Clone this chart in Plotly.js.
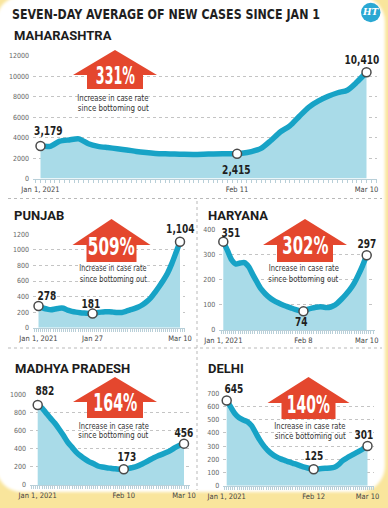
<!DOCTYPE html>
<html>
<head>
<meta charset="utf-8">
<script src="https://cdn.plot.ly/plotly-3.0.1.min.js"></script>
<style>
  html, body { margin: 0; padding: 0; background: #f9e59c; width: 388px; height: 508px; overflow: hidden; }
  #card { position: absolute; left: -4px; top: -4px; width: 389px; height: 496px; background: #fff; border-radius: 26px; filter: blur(1.5px); }
  #chart { position: absolute; left: 0; top: 0; width: 388px; height: 508px; }
</style>
</head>
<body>
<div id="card"></div>
<div id="chart"></div>
<script>
// Seven-day average of new COVID-19 cases, sampled every second day from Jan 1 to Mar 10, 2021
const days = [
  '2021-01-01','2021-01-03','2021-01-05','2021-01-07','2021-01-09','2021-01-11','2021-01-13','2021-01-15',
  '2021-01-17','2021-01-19','2021-01-21','2021-01-23','2021-01-25','2021-01-27','2021-01-29','2021-01-31',
  '2021-02-02','2021-02-04','2021-02-06','2021-02-08','2021-02-10','2021-02-12','2021-02-14','2021-02-16',
  '2021-02-18','2021-02-20','2021-02-22','2021-02-24','2021-02-26','2021-02-28','2021-03-02','2021-03-04',
  '2021-03-06','2021-03-08','2021-03-10'
];

const maharashtra = [3179, 3150, 3650, 3780, 3880, 3400, 3150, 3030, 2920, 2800, 2650, 2540, 2460, 2420, 2390, 2370,
  2360, 2380, 2410, 2430, 2415, 2480, 2640, 2950, 3700, 4550, 5150, 6100, 7000, 7600, 8050, 8400, 8650, 9450, 10410];
const punjab = [278, 255, 240, 230, 240, 250, 250, 225, 210, 200, 193, 188, 184, 181, 192, 200,
  205, 206, 200, 195, 196, 210, 228, 245, 265, 295, 335, 385, 455, 530, 610, 700, 820, 960, 1104];
const haryana = [351, 315, 278, 262, 266, 268, 252, 220, 190, 162, 143, 128, 117, 108, 100, 94,
  88, 82, 77, 74, 82, 87, 90, 92, 90, 89, 95, 106, 122, 140, 160, 185, 218, 255, 297];
const madhyaPradesh = [882, 850, 790, 735, 680, 615, 545, 470, 415, 360, 320, 285, 255, 235, 210, 198,
  190, 184, 178, 175, 173, 180, 192, 205, 225, 250, 275, 300, 322, 340, 360, 385, 415, 438, 456];
const delhi = [645, 595, 545, 515, 498, 485, 455, 400, 345, 300, 265, 238, 218, 203, 192, 180,
  170, 160, 148, 138, 130, 125, 127, 130, 132, 134, 140, 160, 190, 210, 228, 245, 262, 280, 301];

// Start, low point and latest value for each state
const mhKeyDates = ['2021-01-01', '2021-02-11', '2021-03-10'];
const mhKeyVals = [3179, 2415, 10410];
const pbKeyDates = ['2021-01-01', '2021-01-27', '2021-03-10'];
const pbKeyVals = [278, 181, 1104];
const hrKeyDates = ['2021-01-01', '2021-02-08', '2021-03-10'];
const hrKeyVals = [351, 74, 297];
const mpKeyDates = ['2021-01-01', '2021-02-10', '2021-03-10'];
const mpKeyVals = [882, 173, 456];
const dlKeyDates = ['2021-01-01', '2021-02-12', '2021-03-10'];
const dlKeyVals = [645, 125, 301];

const mhTicks = ['Jan 1, 2021', 'Feb 11', 'Mar 10'];
const pbTicks = ['Jan 1, 2021', 'Jan 27', 'Mar 10'];
const hrTicks = ['Jan 1, 2021', 'Feb 8', 'Mar 10'];
const mpTicks = ['Jan 1, 2021', 'Feb 10', 'Mar 10'];
const dlTicks = ['Jan 1, 2021', 'Feb 12', 'Mar 10'];

const stateNames = ['MAHARASHTRA', 'PUNJAB', 'HARYANA', 'MADHYA PRADESH', 'DELHI'];
const increases = ['331%', '509%', '302%', '164%', '140%'];
const noteLines = ['Increase in case rate', 'since bottoming out'];

// ---- styling & geometry (pixels in a 388x508 page) ----
const W = 388, H = 508;
const px = v => v / W;
const py = v => 1 - v / H;
const DAY = 86400000;
const NARROW = '"Liberation Sans Narrow", "DejaVu Sans Condensed", "Roboto Condensed", sans-serif';
const BOLD = 'Roboto, "Noto Sans", sans-serif';
const CYAN = '#17a3c6', FILL = '#a9dbe8', RED = '#e4472e', TICKC = '#b8cfd8';

const panels = [
  { name: stateNames[0], vals: maharashtra, keyDates: mhKeyDates, keyVals: mhKeyVals, ticks: mhTicks, pct: increases[0],
    xPix: [33, 377], p0: 40.5, p1: 366.5, yPix: [178.5, 56], top: 12000, dtick: 2000, titleAt: [12, 36],
    arrow: { cx: 115, tip: 50, head: 42, base: 75, body: 28, bottom: 89 }, pctY: 76, pctW: 39,
    noteX: 113, noteY: [97.5, 107.5], noteW: 71,
    shifts: [[8, 15], [-1, -16], [-5, 12]] },
  { name: stateNames[1], vals: punjab, keyDates: pbKeyDates, keyVals: pbKeyVals, ticks: pbTicks, pct: increases[1],
    xPix: [33, 185], p0: 38.5, p1: 180, yPix: [327.7, 234.3], top: 1200, dtick: 200, titleAt: [12, 215],
    arrow: { cx: 111.5, tip: 219, head: 39, base: 245, body: 25, bottom: 262 }, pctY: 246.5, pctW: 47,
    noteX: 113, noteY: [268, 278.5], noteW: 67,
    shifts: [[8, 10], [-2, 10], [0, 13]] },
  { name: stateNames[2], vals: haryana, keyDates: hrKeyDates, keyVals: hrKeyVals, ticks: hrTicks, pct: increases[2],
    xPix: [219.3, 375], p0: 223.3, p1: 366.7, yPix: [330, 229.3], top: 400, dtick: 100, titleAt: [206, 215],
    arrow: { cx: 305, tip: 219, head: 42, base: 245, body: 28, bottom: 262 }, pctY: 246, pctW: 46,
    noteX: 303.5, noteY: [268, 278.5], noteW: 70,
    shifts: [[8, 9], [-2, -11], [0, 11]] },
  { name: stateNames[3], vals: madhyaPradesh, keyDates: mpKeyDates, keyVals: mpKeyVals, ticks: mpTicks, pct: increases[3],
    xPix: [30, 190], p0: 37.7, p1: 184, yPix: [485, 394.3], top: 1000, dtick: 200, titleAt: [12.5, 368],
    arrow: { cx: 115, tip: 377, head: 42, base: 402, body: 28, bottom: 418 }, pctY: 403, pctW: 44,
    noteX: 113.5, noteY: [425.7, 435], noteW: 70,
    shifts: [[7, 14], [3, 12], [0, 11]] },
  { name: stateNames[4], vals: delhi, keyDates: dlKeyDates, keyVals: dlKeyVals, ticks: dlTicks, pct: increases[4],
    xPix: [223.3, 374], p0: 226.7, p1: 367.5, yPix: [485.7, 393.3], top: 700, dtick: 100, titleAt: [206, 368],
    arrow: { cx: 308.5, tip: 377, head: 41, base: 403, body: 27, bottom: 419 }, pctY: 405, pctW: 43,
    noteX: 310, noteY: [426, 435.5], noteW: 71,
    shifts: [[7, 12], [0, 13], [-4, 11]] }
];

function dateRange(a, b, p0, p1) {
  const t0 = Date.UTC(2021, 0, 1), t1 = Date.UTC(2021, 2, 10);
  const s = (p1 - p0) / (t1 - t0);
  return [t0 - (p0 - a) / s, t1 + (b - p1) / s];
}

function arrowPath(a) {
  const pts = [
    [a.cx, a.tip], [a.cx + a.head, a.base], [a.cx + a.body, a.base], [a.cx + a.body, a.bottom],
    [a.cx - a.body, a.bottom], [a.cx - a.body, a.base], [a.cx - a.head, a.base]
  ];
  return 'M' + pts.map(p => px(p[0]) + ',' + py(p[1])).join(' L') + ' Z';
}

const data = [];
const layout = {
  width: W, height: H,
  margin: { l: 0, r: 0, t: 0, b: 0 },
  paper_bgcolor: 'rgba(0,0,0,0)',
  plot_bgcolor: 'rgba(0,0,0,0)',
  showlegend: false,
  annotations: [],
  shapes: []
};

// condensed lettering: annotation index -> fixed width (px) or scale factor
const squeeze = [];
function addNote(ann, fit) {
  layout.annotations.push(ann);
  if (fit) squeeze.push(Object.assign({ idx: layout.annotations.length - 1 }, fit));
}

panels.forEach((p, i) => {
  const s = i === 0 ? '' : String(i + 1);
  const xa = 'x' + s, ya = 'y' + s;

  data.push({
    x: days, y: p.vals, xaxis: xa, yaxis: ya, type: 'scatter', mode: 'lines',
    line: { color: CYAN, width: 5.5, shape: 'spline', smoothing: 0.7 },
    fill: 'tozeroy', fillcolor: FILL, hoverinfo: 'skip'
  });
  data.push({
    x: p.keyDates, y: p.keyVals, xaxis: xa, yaxis: ya, type: 'scatter', mode: 'markers',
    marker: { size: 9, color: '#ffffff', line: { color: '#4a4a4a', width: 1.5 } },
    cliponaxis: false, hoverinfo: 'skip'
  });

  const yScale = (p.yPix[0] - p.yPix[1]) / p.top;
  layout['xaxis' + s] = {
    type: 'date', domain: [px(p.xPix[0]), px(p.xPix[1])], range: dateRange(p.xPix[0], p.xPix[1], p.p0, p.p1),
    anchor: ya, tickmode: 'array', tickvals: p.keyDates, ticktext: p.ticks,
    ticks: 'outside', ticklen: 3, tickcolor: TICKC, showline: true, linecolor: TICKC, linewidth: 1,
    showgrid: false, zeroline: false, fixedrange: true,
    tickfont: { family: NARROW, size: 7.5, color: '#444' },
    minor: { tickmode: 'linear', tick0: '2021-01-01', dtick: DAY, ticks: 'outside', ticklen: 3, tickcolor: TICKC, showgrid: false }
  };
  layout['yaxis' + s] = {
    domain: [py(p.yPix[0]), py(p.yPix[1] - 0.5)], range: [0, p.top + 0.5 / yScale],
    anchor: xa, tickmode: 'linear', tick0: 0, dtick: p.dtick, tickformat: 'd',
    showgrid: true, gridcolor: '#c4c4c4', griddash: 'dot', gridwidth: 1,
    zeroline: false, showline: false, ticks: '', ticklabelstandoff: 3, fixedrange: true,
    tickfont: { family: NARROW, size: 7, color: '#666' }
  };

  // state name
  addNote({
    xref: 'paper', yref: 'paper', x: px(p.titleAt[0]), y: py(p.titleAt[1]), xanchor: 'left', yanchor: 'middle',
    text: p.name, showarrow: false, font: { family: BOLD, size: 13, weight: 700, color: '#1c1c1c' }
  });

  // red up-arrow with the rise since the low point
  layout.shapes.push({
    type: 'path', xref: 'paper', yref: 'paper', path: arrowPath(p.arrow),
    fillcolor: RED, line: { width: 0 }, layer: 'above'
  });
  addNote({
    xref: 'paper', yref: 'paper', x: px(p.arrow.cx), y: py(p.pctY), xanchor: 'center', yanchor: 'middle',
    text: p.pct, showarrow: false, font: { family: NARROW, size: 24, weight: 700, color: '#ffffff' }
  }, { width: p.pctW });
  noteLines.forEach((line, k) => {
    addNote({
      xref: 'paper', yref: 'paper', x: px(p.noteX), y: py(p.noteY[k]), xanchor: 'center', yanchor: 'middle',
      text: line, showarrow: false, font: { family: NARROW, size: 8.5, color: '#333' }
    }, { width: p.noteW });
  });

  // value labels at the start, the low and the latest point
  p.keyVals.forEach((v, j) => {
    addNote({
      xref: xa, yref: ya, x: p.keyDates[j], y: v, xshift: p.shifts[j][0], yshift: p.shifts[j][1],
      xanchor: 'center', yanchor: 'middle', showarrow: false,
      text: v.toLocaleString('en-US'),
      font: { family: NARROW, size: 11.5, weight: 700, color: '#1e1e1e' }
    }, { scale: 0.87 });
  });
});

// heading
addNote({
  xref: 'paper', yref: 'paper', x: px(166), y: py(14.5), xanchor: 'center', yanchor: 'middle',
  text: 'SEVEN-DAY AVERAGE OF NEW CASES SINCE JAN 1', showarrow: false,
  font: { family: NARROW, size: 14, weight: 700, color: '#1f1f1f' }
}, { width: 308 });

// HT badge
layout.shapes.push({
  type: 'circle', xref: 'paper', yref: 'paper',
  x0: px(361), x1: px(380.5), y0: py(22.2), y1: py(2.8),
  fillcolor: '#2aa8d3', line: { width: 0 }, layer: 'above'
});
addNote({
  xref: 'paper', yref: 'paper', x: px(370.8), y: py(12.5), xanchor: 'center', yanchor: 'middle',
  text: '<i>HT</i>', showarrow: false, font: { family: '"DejaVu Serif", serif', size: 9, weight: 700, color: '#ffffff' }
});

// dotted panel separators
const sepStyle = { color: '#b9b9b9', width: 1, dash: 'dot' };
layout.shapes.push(
  { type: 'line', xref: 'paper', yref: 'paper', x0: px(8), x1: px(382), y0: py(198.5), y1: py(198.5), line: sepStyle, layer: 'below' },
  { type: 'line', xref: 'paper', yref: 'paper', x0: px(8), x1: px(382), y0: py(348), y1: py(348), line: sepStyle, layer: 'below' },
  { type: 'line', xref: 'paper', yref: 'paper', x0: px(197), x1: px(197), y0: py(201), y1: py(490), line: sepStyle, layer: 'below' }
);

// squeeze the headline-style lettering to its set width, and shrink its box to match
function condense(gd) {
  squeeze.forEach(f => {
    const g = gd.querySelector('.annotation[data-index="' + f.idx + '"]');
    if (!g) return;
    const t = g.querySelector('text.annotation-text');
    const natural = t.getComputedTextLength();
    const w = f.width !== undefined ? f.width : natural * f.scale;
    t.setAttribute('textLength', w.toFixed(1));
    t.setAttribute('lengthAdjust', 'spacingAndGlyphs');
    g.querySelectorAll('rect').forEach(r => {
      const ow = parseFloat(r.getAttribute('width')) || 0;
      const ox = parseFloat(r.getAttribute('x')) || 0;
      const nw = Math.max(0, ow - (natural - w));
      r.setAttribute('x', (ox + (ow - nw) / 2).toFixed(1));
      r.setAttribute('width', nw.toFixed(1));
    });
  });
}

Plotly.newPlot('chart', data, layout, { staticPlot: true, displayModeBar: false }).then(condense);
</script>
</body>
</html>
